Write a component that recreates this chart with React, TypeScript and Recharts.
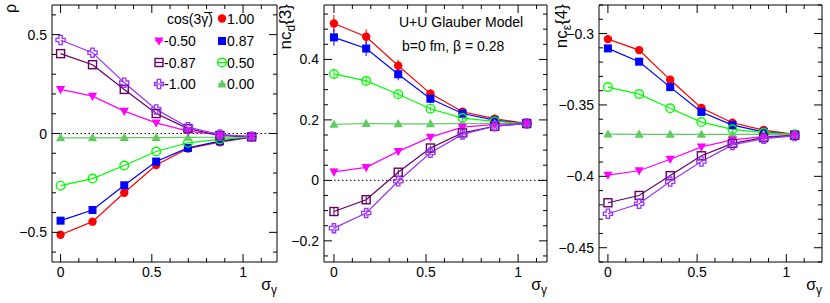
import React from 'react';
import { LineChart, Line, XAxis, YAxis, ReferenceLine, ErrorBar } from 'recharts';

const FONT = '"Liberation Sans", Arial, Helvetica, sans-serif';

// sigma_gamma (radians)
const sigma = [0, 0.175, 0.349, 0.524, 0.698, 0.873, 1.047];

// series: cos(3 gamma-bar)
const seriesKeys = ['c100', 'c087', 'c050', 'c000', 'cm050', 'cm087', 'cm100'];
const cosLabels = ['1.00', '0.87', '0.50', '0.00', '-0.50', '-0.87', '-1.00'];
const seriesColors = ['#ff0000', '#0000ff', '#00ff00', '#5ecc5e', '#ff00ff', '#660066', '#9933ff'];
const seriesShapes = ['circle', 'square', 'ocircle', 'tri', 'tridown', 'osquare', 'ocross'];

// panel 1: rho
const rho100 = [-0.512, -0.446, -0.3, -0.159, -0.076, -0.044, -0.019];
const rho087 = [-0.441, -0.387, -0.262, -0.142, -0.073, -0.039, -0.017];
const rho050 = [-0.264, -0.228, -0.162, -0.091, -0.047, -0.03, -0.017];
const rho000 = [-0.022, -0.022, -0.021, -0.021, -0.02, -0.019, -0.017];
const rhoM050 = [0.223, 0.189, 0.113, 0.054, 0.012, -0.007, -0.015];
const rhoM087 = [0.404, 0.348, 0.223, 0.101, 0.025, -0.01, -0.017];
const rhoM100 = [0.473, 0.409, 0.257, 0.122, 0.032, -0.005, -0.017];

// panel 2: nc_d{3}
const ncd100 = [0.519, 0.475, 0.379, 0.287, 0.227, 0.204, 0.188];
const ncd087 = [0.473, 0.436, 0.351, 0.27, 0.221, 0.199, 0.188];
const ncd050 = [0.352, 0.329, 0.285, 0.237, 0.206, 0.195, 0.188];
const ncd000 = [0.185, 0.188, 0.187, 0.187, 0.188, 0.188, 0.188];
const ncdM050 = [0.028, 0.043, 0.096, 0.143, 0.176, 0.185, 0.188];
const ncdM087 = [-0.103, -0.064, 0.027, 0.107, 0.157, 0.179, 0.188];
const ncdM100 = [-0.158, -0.108, -0.003, 0.091, 0.152, 0.179, 0.188];
// statistical errors on nc_d{3}
const ncdErr100 = [0.028, 0.025, 0.02, 0.015, 0.01, 0.007, 0.005];
const ncdErr087 = [0.028, 0.025, 0.02, 0.015, 0.01, 0.007, 0.005];
const ncdErr050 = [0.015, 0.013, 0.01, 0.008, 0.006, 0.005, 0.004];
const ncdErr000 = [0.008, 0.008, 0.007, 0.006, 0.005, 0.004, 0.004];
const ncdErrM050 = [0.012, 0.011, 0.009, 0.008, 0.006, 0.005, 0.004];
const ncdErrM087 = [0.012, 0.011, 0.009, 0.008, 0.006, 0.005, 0.004];
const ncdErrM100 = [0.012, 0.011, 0.009, 0.008, 0.006, 0.005, 0.004];

// panel 3: nc_eps{4}
const nce100 = [-0.3039, -0.3116, -0.3324, -0.3521, -0.3625, -0.3676, -0.3706];
const nce087 = [-0.3104, -0.3197, -0.3375, -0.3549, -0.3641, -0.3688, -0.3706];
const nce050 = [-0.3375, -0.3424, -0.3523, -0.362, -0.3671, -0.3694, -0.3706];
const nce000 = [-0.3705, -0.3706, -0.3706, -0.3706, -0.3706, -0.3706, -0.3706];
const nceM050 = [-0.3991, -0.3961, -0.388, -0.3794, -0.3745, -0.3722, -0.3713];
const nceM087 = [-0.4185, -0.4134, -0.3995, -0.3856, -0.3769, -0.3729, -0.3713];
const nceM100 = [-0.4262, -0.4192, -0.4037, -0.3896, -0.378, -0.3736, -0.3717];

// axis ticks
const xTicks = [0, 0.1, 0.2, 0.3, 0.4, 0.5, 0.6, 0.7, 0.8, 0.9, 1, 1.1];
const xMajor = [0, 0.5, 1];
const rhoTicks = [-0.6, -0.5, -0.4, -0.3, -0.2, -0.1, 0, 0.1, 0.2, 0.3, 0.4, 0.5, 0.6];
const rhoMajor = [-0.5, 0, 0.5];
const ncdTicks = [-0.25, -0.2, -0.15, -0.1, -0.05, 0, 0.05, 0.1, 0.15, 0.2, 0.25, 0.3, 0.35, 0.4, 0.45, 0.5, 0.55];
const ncdMajor = [-0.2, 0, 0.2, 0.4];
const nceTicks = [-0.46, -0.45, -0.44, -0.43, -0.42, -0.41, -0.4, -0.39, -0.38, -0.37, -0.36, -0.35, -0.34, -0.33, -0.32, -0.31, -0.3, -0.29, -0.28];
const nceMajor = [-0.45, -0.4, -0.35, -0.3];

function buildRows(values: number[][], errs?: number[][]) {
  return sigma.map((x, i) => {
    const row: any = { x };
    seriesKeys.forEach((k, s) => {
      row[k] = values[s][i];
      if (errs) row['e_' + k] = errs[s][i];
    });
    return row;
  });
}

const rhoRows = buildRows([rho100, rho087, rho050, rho000, rhoM050, rhoM087, rhoM100]);
const ncdRows = buildRows(
  [ncd100, ncd087, ncd050, ncd000, ncdM050, ncdM087, ncdM100],
  [ncdErr100, ncdErr087, ncdErr050, ncdErr000, ncdErrM050, ncdErrM087, ncdErrM100]
);
const nceRows = buildRows([nce100, nce087, nce050, nce000, nceM050, nceM087, nceM100]);

function Marker({ shape, color, cx, cy }: { shape: string; color: string; cx: number; cy: number }) {
  const s = 4;
  switch (shape) {
    case 'circle':
      return <circle cx={cx} cy={cy} r={4.2} fill={color} />;
    case 'square':
      return <rect x={cx - s} y={cy - s} width={2 * s} height={2 * s} fill={color} />;
    case 'ocircle':
      return <circle cx={cx} cy={cy} r={4.3} fill="none" stroke={color} strokeWidth={1.4} />;
    case 'tri':
      return <polygon points={`${cx},${cy - 4.8} ${cx + 4.6},${cy + 3.4} ${cx - 4.6},${cy + 3.4}`} fill={color} />;
    case 'tridown':
      return <polygon points={`${cx},${cy + 4.8} ${cx + 4.6},${cy - 3.4} ${cx - 4.6},${cy - 3.4}`} fill={color} />;
    case 'osquare':
      return <rect x={cx - s} y={cy - s} width={2 * s} height={2 * s} fill="none" stroke={color} strokeWidth={1.4} />;
    case 'ocross': {
      const a = 1.7;
      const b = 4.6;
      const d = `M${cx - a},${cy - b}L${cx + a},${cy - b}L${cx + a},${cy - a}L${cx + b},${cy - a}L${cx + b},${cy + a}L${cx + a},${cy + a}L${cx + a},${cy + b}L${cx - a},${cy + b}L${cx - a},${cy + a}L${cx - b},${cy + a}L${cx - b},${cy - a}L${cx - a},${cy - a}Z`;
      return <path d={d} fill="none" stroke={color} strokeWidth={1.3} />;
    }
    default:
      return null;
  }
}

const isMajor = (v: number, majors: number[]) => majors.some((m) => Math.abs(m - v) < 1e-9);
const fmt = (v: number) => (v < 0 ? '\u2212' + String(-v) : String(v));

function makeTick(side: string, majors: number[], showLabel: boolean) {
  return (props: any) => {
    const { x, y, payload } = props;
    const v = payload.value;
    const major = isMajor(v, majors);
    const len = major ? 8 : 4;
    let x2 = x;
    let y2 = y;
    if (side === 'bottom') y2 = y - len;
    if (side === 'top') y2 = y + len;
    if (side === 'left') x2 = x + len;
    if (side === 'right') x2 = x - len;
    let label = null;
    if (showLabel && major) {
      if (side === 'bottom') {
        label = (
          <text x={x} y={y + 15} textAnchor="middle" fontSize={14} fill="#000" fontFamily={FONT}>
            {fmt(v)}
          </text>
        );
      } else {
        label = (
          <text x={x - 5} y={y + 5} textAnchor="end" fontSize={14} fill="#000" fontFamily={FONT}>
            {fmt(v)}
          </text>
        );
      }
    }
    return (
      <g>
        <line x1={x} y1={y} x2={x2} y2={y2} stroke="#000" strokeWidth={1} />
        {label}
      </g>
    );
  };
}

type PanelProps = {
  rows: any[];
  left: number;
  width: number;
  frameLeft: number;
  frameRight: number;
  xDomain: number[];
  yDomain: number[];
  yTicks: number[];
  yMajor: number[];
  zeroTo?: number;
  withErrors?: boolean;
};

const FRAME_TOP = 5;
const FRAME_BOTTOM = 262;

function Panel({ rows, left, width, frameLeft, frameRight, xDomain, yDomain, yTicks, yMajor, zeroTo, withErrors }: PanelProps) {
  // axes are 1px thick; margins put the frame at the wanted pixels
  const margin = {
    top: FRAME_TOP - 1,
    bottom: 303 - FRAME_BOTTOM - 1,
    left: frameLeft - left - 1,
    right: left + width - frameRight - 1,
  };
  const axisCommon = {
    tickLine: false,
    tickSize: 0,
    tickMargin: 0,
    interval: 0 as const,
    allowDataOverflow: true,
    axisLine: { stroke: '#000', strokeWidth: 1 },
  };
  return (
    <div style={{ position: 'absolute', left, top: 0 }}>
      <LineChart width={width} height={303} data={rows} margin={margin}>
        <XAxis xAxisId="b" type="number" dataKey="x" domain={xDomain} ticks={xTicks} height={1}
          tick={makeTick('bottom', xMajor, true)} {...axisCommon} />
        <XAxis xAxisId="t" orientation="top" type="number" dataKey="x" domain={xDomain} ticks={xTicks} height={1}
          tick={makeTick('top', xMajor, false)} {...axisCommon} />
        <YAxis yAxisId="l" type="number" domain={yDomain} ticks={yTicks} width={1}
          tick={makeTick('left', yMajor, true)} {...axisCommon} />
        <YAxis yAxisId="r" orientation="right" type="number" domain={yDomain} ticks={yTicks} width={1}
          tick={makeTick('right', yMajor, false)} {...axisCommon} />
        {zeroTo !== undefined && (
          <ReferenceLine xAxisId="b" yAxisId="l" segment={[{ x: 0, y: 0 }, { x: zeroTo, y: 0 }]}
            stroke="#000" strokeWidth={1} strokeDasharray="1.5 2.5" />
        )}
        {seriesKeys.map((k, s) => (
          <Line key={k} xAxisId="b" yAxisId="l" dataKey={k} stroke={seriesColors[s]} strokeWidth={1.2}
            isAnimationActive={false} activeDot={false}
            dot={(p: any) => (
              <Marker key={`${k}-${p.index}`} shape={seriesShapes[s]} color={seriesColors[s]} cx={p.cx} cy={p.cy} />
            )}>
            {withErrors && (
              <ErrorBar dataKey={'e_' + k} width={0} stroke={seriesColors[s]} strokeWidth={1} direction="y" />
            )}
          </Line>
        ))}
      </LineChart>
    </div>
  );
}

function LegendEntry({ x, y, s }: { x: number; y: number; s: number }) {
  return (
    <g>
      <line x1={x - 4} y1={y} x2={x + 4} y2={y} stroke={seriesColors[s]} strokeWidth={1.2} />
      <Marker shape={seriesShapes[s]} color={seriesColors[s]} cx={x} cy={y} />
      <text x={x + 5} y={y + 5} fontSize={14} fill="#000">{cosLabels[s]}</text>
    </g>
  );
}

export default function App() {
  return (
    <div style={{ position: 'absolute', left: 0, top: 0, width: 830, height: 303, background: '#fff', fontFamily: FONT }}>
      <Panel rows={rhoRows} left={0} width={280} frameLeft={52} frameRight={277}
        xDomain={[-0.047, 1.186]} yDomain={[-0.65, 0.65]} yTicks={rhoTicks} yMajor={rhoMajor} zeroTo={1.16} />
      <Panel rows={ncdRows} left={277} width={276} frameLeft={324} frameRight={547}
        xDomain={[-0.054, 1.157]} yDomain={[-0.27, 0.58]} yTicks={ncdTicks} yMajor={ncdMajor} zeroTo={1.157} withErrors />
      <Panel rows={nceRows} left={553} width={277} frameLeft={599} frameRight={822}
        xDomain={[-0.05, 1.2]} yDomain={[-0.46, -0.28]} yTicks={nceTicks} yMajor={nceMajor} />

      <svg width={830} height={303} style={{ position: 'absolute', left: 0, top: 0, pointerEvents: 'none' }}
        fontFamily={FONT}>
        {/* legend */}
        <text x={167} y={23.5} fontSize={14} fill="#000">cos(3{'\u03B3\u0305'})</text>
        <LegendEntry x={222} y={18.5} s={0} />
        <LegendEntry x={222} y={41} s={1} />
        <LegendEntry x={222} y={62.5} s={2} />
        <LegendEntry x={222} y={84} s={3} />
        <LegendEntry x={159} y={41} s={4} />
        <LegendEntry x={159} y={62.5} s={5} />
        <LegendEntry x={159} y={84} s={6} />

        {/* annotations */}
        <text x={399} y={26.5} fontSize={14} fill="#000">U+U Glauber Model</text>
        <text x={402} y={51} fontSize={14} fill="#000">b=0 fm, {'\u03B2'} = 0.28</text>

        {/* y titles */}
        <text transform="translate(16,4) rotate(-90)" textAnchor="end" fontSize={16} fill="#000">{'\u03C1'}</text>
        <text transform="translate(291,4) rotate(-90)" textAnchor="end" fontSize={17} fill="#000">
          nc<tspan fontSize={12} dy={4}>d</tspan><tspan dy={-4}>{'{3}'}</tspan>
        </text>
        <text transform="translate(567,4) rotate(-90)" textAnchor="end" fontSize={17} fill="#000">
          nc<tspan fontSize={12} dy={4}>{'\u03B5'}</tspan><tspan dy={-4}>{'{4}'}</tspan>
        </text>

        {/* x titles */}
        <text x={277} y={290} textAnchor="end" fontSize={16} fill="#000">
          {'\u03C3'}<tspan fontSize={12} dy={4}>{'\u03B3'}</tspan>
        </text>
        <text x={547} y={290} textAnchor="end" fontSize={16} fill="#000">
          {'\u03C3'}<tspan fontSize={12} dy={4}>{'\u03B3'}</tspan>
        </text>
        <text x={822} y={290} textAnchor="end" fontSize={16} fill="#000">
          {'\u03C3'}<tspan fontSize={12} dy={4}>{'\u03B3'}</tspan>
        </text>
      </svg>
    </div>
  );
}
